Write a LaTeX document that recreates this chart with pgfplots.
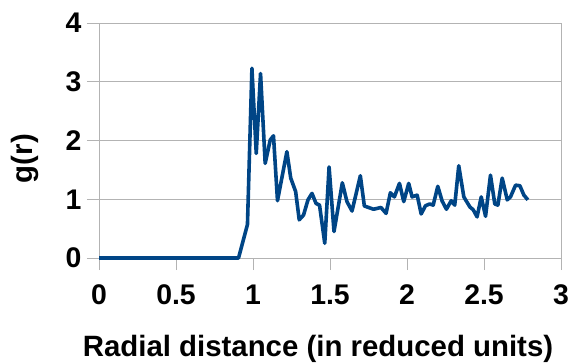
\documentclass[border=0pt]{standalone}
\usepackage{fontspec}
\setmainfont{Liberation Sans}
\usepackage{pgfplots}
\pgfplotsset{compat=1.18}
\definecolor{series}{HTML}{004586}
\definecolor{gridc}{HTML}{B3B3B3}
\begin{document}
\begin{tikzpicture}[x=1bp,y=1bp]
\useasboundingbox (0,0) rectangle (572,362);
\begin{axis}[
  at={(99bp,104bp)}, anchor=south west,
  scale only axis, width=462bp, height=235bp,
  xmin=0, xmax=3, ymin=0, ymax=4,
  xtick={0,0.5,...,3}, ytick={0,1,2,3,4},
  xticklabels={0,0.5,1,1.5,2,2.5,3},
  ymajorgrids, grid style={gridc, line width=1bp},
  axis line style={gridc, line width=1bp},
  tick style={gridc, line width=1bp},
  tick align=outside, major tick length=12bp,
  xtick pos=bottom, ytick pos=left,
  /pgf/number format/assume math mode=true,
  tick label style={font=\fontsize{28.5}{30}\selectfont\bfseries, text=black},
  x tick label style={anchor=north, yshift=-11bp},
  y tick label style={anchor=east, xshift=-2bp},
  xlabel={Radial distance (in reduced units)},
  ylabel={g(r)},
  label style={font=\fontsize{29.5}{31}\selectfont\bfseries},
  xlabel style={at={(axis description cs:0.474,-0.386)}, anchor=center},
  ylabel style={at={(axis description cs:-0.16,0.423)}, anchor=center},
  clip=false,
]
\addplot[series, line width=3.6bp, line join=round, mark=none] coordinates {
(0,0) (0.906,0) (0.964,0.57) (0.993,3.23) (1.021,1.78) (1.049,3.14) (1.079,1.61)
(1.112,2.01) (1.133,2.08) (1.159,0.975) (1.220,1.81) (1.245,1.36) (1.277,1.13)
(1.300,0.65) (1.328,0.73) (1.357,0.99) (1.383,1.10) (1.409,0.93) (1.432,0.90)
(1.466,0.25) (1.494,1.55) (1.526,0.45) (1.580,1.28) (1.61,0.96) (1.643,0.80)
(1.697,1.40) (1.723,0.885) (1.783,0.83) (1.831,0.86) (1.864,0.76) (1.892,1.11)
(1.918,1.04) (1.951,1.27) (1.979,0.96) (2.011,1.27) (2.033,1.04) (2.066,1.07)
(2.092,0.75) (2.12,0.89) (2.148,0.92) (2.17,0.90) (2.2,1.22) (2.228,0.97)
(2.256,0.83) (2.287,0.975) (2.31,0.90) (2.336,1.57) (2.369,1.04) (2.408,0.87)
(2.43,0.82) (2.455,0.70) (2.482,1.04) (2.51,0.71) (2.542,1.41) (2.57,0.92)
(2.59,0.90) (2.618,1.36) (2.651,0.99) (2.672,1.04) (2.705,1.24) (2.733,1.23)
(2.759,1.07) (2.785,0.99)
};
\end{axis}
\end{tikzpicture}
\end{document}
